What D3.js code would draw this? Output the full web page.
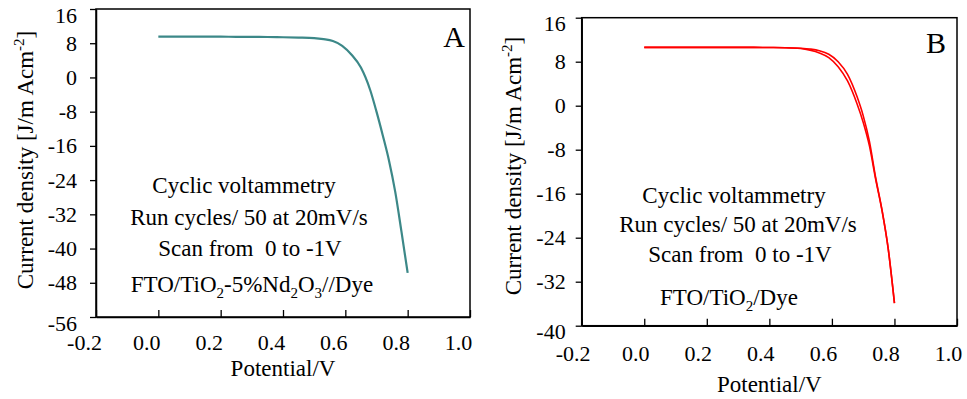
<!DOCTYPE html>
<html>
<head>
<meta charset="utf-8">
<script src="https://cdn.jsdelivr.net/npm/d3@7/dist/d3.min.js"></script>
<style>
  html, body { margin: 0; padding: 0; background: #fff; }
  svg { display: block; }
  text { font-family: "Liberation Serif", "Times New Roman", serif; fill: #000; }
</style>
</head>
<body>
<svg id="chart" width="967" height="399"></svg>
<script>
// Potential (V) sampled along each scan
const potential = [0.00, 0.05, 0.10, 0.15, 0.20, 0.25, 0.30, 0.35, 0.40, 0.45,
                   0.50, 0.53, 0.56, 0.59, 0.62, 0.65, 0.68, 0.70, 0.72, 0.74,
                   0.76, 0.78, 0.80];

// Panel A: FTO/TiO2-5%Nd2O3//Dye current density (mA cm^-2)
const currentA = [9.55, 9.55, 9.54, 9.53, 9.52, 9.50, 9.48, 9.45, 9.40, 9.33,
                  9.20, 8.95, 8.50, 7.40, 5.30, 2.30, -3.00, -8.00, -13.50, -19.40,
                  -26.70, -36.00, -45.70];

// Panel B: FTO/TiO2/Dye, two overlapping cycles
const currentB1 = [10.60, 10.60, 10.60, 10.60, 10.60, 10.60, 10.60, 10.60, 10.58, 10.55,
                   10.40, 10.10, 9.60, 8.75, 7.10, 4.50, 0.40, -3.00, -7.30, -13.40,
                   -19.00, -26.00, -35.90];
const currentB2 = [10.60, 10.60, 10.60, 10.60, 10.60, 10.60, 10.60, 10.60, 10.58, 10.55,
                   10.45, 10.30, 10.00, 9.35, 8.00, 5.70, 1.70, -1.80, -6.50, -13.10,
                   -18.90, -26.00, -35.90];

const xTicks = [-0.2, 0.0, 0.2, 0.4, 0.6, 0.8, 1.0];
const yTicksA = [16, 8, 0, -8, -16, -24, -32, -40, -48, -56];
const yTicksB = [16, 8, 0, -8, -16, -24, -32, -40];

const notesCommon = ["Cyclic voltammetry", "Run cycles/ 50 at 20mV/s", "Scan from\u00a0 0 to -1V"];

// plain hyphen-minus for negative tick labels
const fmtX = d => d3.format(".1f")(d).replace("\u2212", "-");
const fmtY = d => d3.format("d")(d).replace("\u2212", "-");

const svg = d3.select("#chart");

function drawPanel(cfg) {
  const g = svg.append("g");
  const x = d3.scaleLinear().domain([-0.2, 1.0]).range([cfg.left, cfg.right]);
  const y = d3.scaleLinear().domain([cfg.yTicks[cfg.yTicks.length - 1], cfg.yTicks[0]])
                            .range([cfg.bottom, cfg.top]);

  // frame
  g.append("rect")
    .attr("x", cfg.left).attr("y", cfg.top)
    .attr("width", cfg.right - cfg.left).attr("height", cfg.bottom - cfg.top)
    .attr("fill", "none").attr("stroke", "#000").attr("stroke-width", 1.5);

  // y axis, outward ticks
  const ya = g.append("g")
    .attr("transform", `translate(${cfg.left},0)`)
    .call(d3.axisLeft(y).tickValues(cfg.yTicks).tickFormat(fmtY)
          .tickSizeInner(6).tickSizeOuter(0).tickPadding(cfg.yPad));
  ya.attr("font-family", null);
  ya.select(".domain").attr("stroke-width", 1.5);
  ya.selectAll(".tick line").attr("stroke-width", 1.3);
  ya.selectAll(".tick text")
    .style("font-size", "22px")
    .attr("dy", (d, i) => (i === 0 || i === cfg.yTicks.length - 1) ? "0.6em" : "0.32em");

  // x axis, inward ticks
  const xa = g.append("g")
    .attr("transform", `translate(0,${cfg.bottom})`)
    .call(d3.axisBottom(x).tickValues(xTicks).tickFormat(fmtX)
          .tickSizeInner(-7).tickSizeOuter(0).tickPadding(cfg.xPad));
  xa.attr("font-family", null);
  xa.select(".domain").attr("stroke-width", 1.5);
  xa.selectAll(".tick line").attr("stroke-width", 1.3);
  xa.selectAll(".tick text").style("font-size", "22px").attr("dx", cfg.xLabelShift);

  // curves
  const line = d3.line().x((d, i) => x(potential[i])).y(d => y(d)).curve(d3.curveMonotoneX);
  cfg.series.forEach(s => {
    g.append("path").datum(s)
      .attr("d", line)
      .attr("fill", "none")
      .attr("stroke", cfg.color)
      .attr("stroke-width", cfg.lineWidth);
  });

  // axis titles
  g.append("text")
    .attr("x", (cfg.left + cfg.right) / 2).attr("y", cfg.xTitleY)
    .attr("text-anchor", "middle").style("font-size", "23px")
    .text("Potential/V");

  const yt = g.append("text")
    .attr("transform", `translate(${cfg.yTitleX},${cfg.yTitleY}) rotate(-90)`)
    .attr("text-anchor", "middle").style("font-size", "23px");
  yt.append("tspan").text("Current density [J/m\u2009Acm");
  yt.append("tspan").attr("dy", -9).style("font-size", "15px").text("-2");
  yt.append("tspan").attr("dy", 9).text("]");

  // panel letter
  g.append("text")
    .attr("x", cfg.letterX).attr("y", cfg.letterY)
    .attr("text-anchor", "middle").style("font-size", "30px")
    .text(cfg.letter);

  // annotation lines
  notesCommon.forEach((t, i) => {
    g.append("text")
      .attr("x", cfg.notes[i][0]).attr("y", cfg.notes[i][1])
      .attr("text-anchor", "middle").style("font-size", "23px")
      .text(t);
  });
  const sample = g.append("text")
    .attr("x", cfg.notes[3][0]).attr("y", cfg.notes[3][1])
    .attr("text-anchor", "middle").style("font-size", "23px");
  cfg.sample.forEach(part => {
    if (part.sub) {
      sample.append("tspan").attr("dy", 6).style("font-size", "15px").text(part.t);
    } else {
      sample.append("tspan").attr("dy", part.after ? -6 : 0).text(part.t);
    }
  });
}

drawPanel({
  left: 96, right: 470, top: 9, bottom: 317,
  yTicks: yTicksA, yPad: 13, xPad: 17, xLabelShift: -12,
  series: [currentA], color: "#3c8888", lineWidth: 2.2,
  xTitleY: 376, yTitleX: 33, yTitleY: 160,
  letter: "A", letterX: 454, letterY: 47,
  notes: [[244, 193], [249, 225], [250, 256], [252, 292]],
  sample: [{t: "FTO/TiO"}, {t: "2", sub: true}, {t: "-5%Nd", after: true},
           {t: "2", sub: true}, {t: "O", after: true}, {t: "3", sub: true},
           {t: "//Dye", after: true}]
});

drawPanel({
  left: 581.7, right: 957, top: 17.7, bottom: 325.7,
  yTicks: yTicksB, yPad: 10, xPad: 20, xLabelShift: -9,
  series: [currentB1, currentB2], color: "#ff0000", lineWidth: 1.6,
  xTitleY: 392, yTitleX: 521, yTitleY: 166,
  letter: "B", letterX: 936, letterY: 53,
  notes: [[734, 203], [738, 232], [740, 262], [729, 305]],
  sample: [{t: "FTO/TiO"}, {t: "2", sub: true}, {t: "/Dye", after: true}]
});
</script>
</body>
</html>
